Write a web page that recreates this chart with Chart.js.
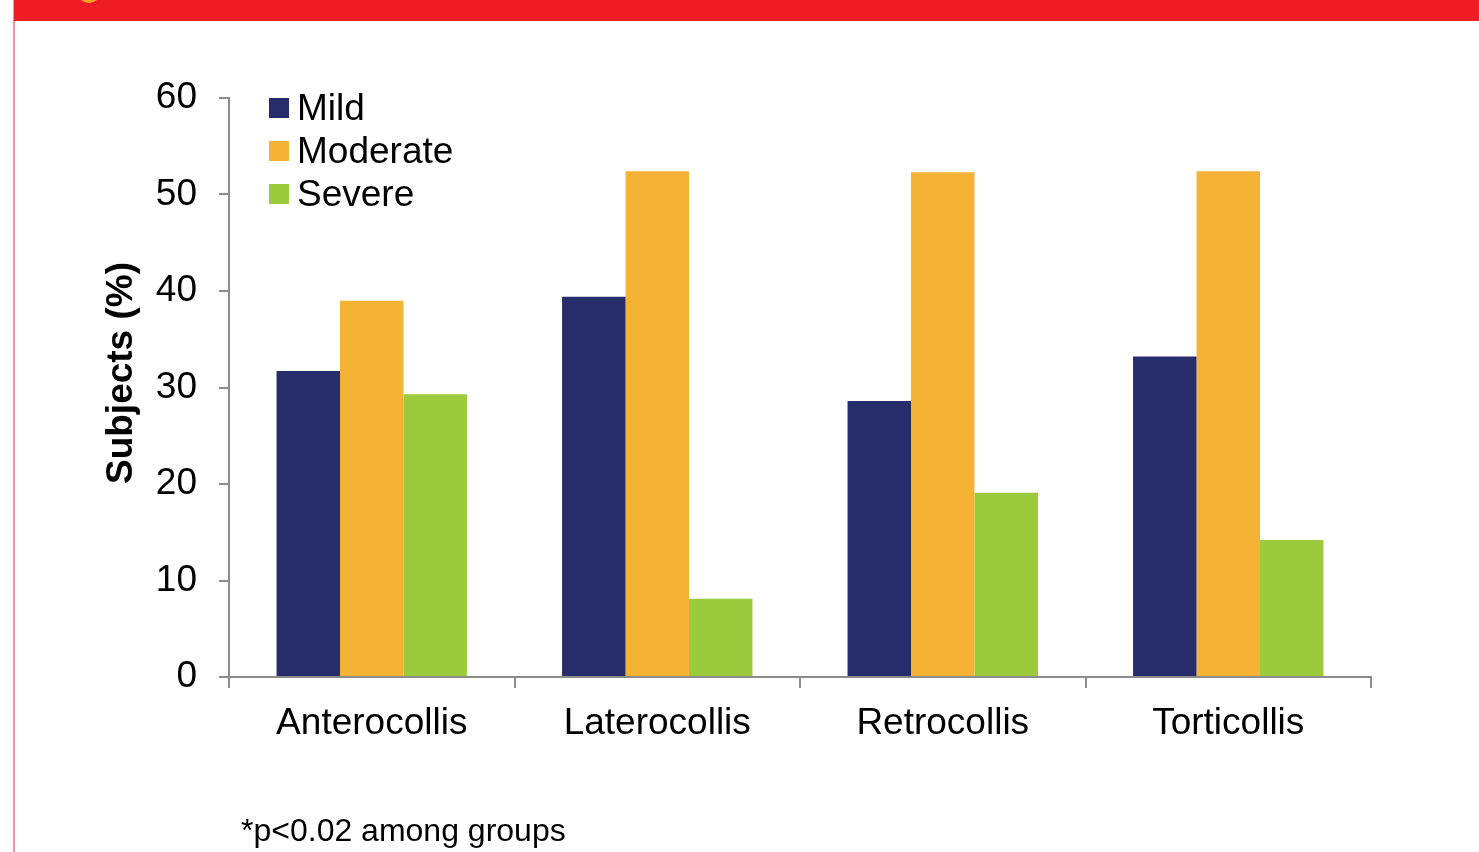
<!DOCTYPE html>
<html>
<head>
<meta charset="utf-8">
<script src="https://cdn.jsdelivr.net/npm/chart.js@4/dist/chart.umd.min.js"></script>
<style>
  html, body { margin: 0; padding: 0; background: #fff; }
  #wrap { position: relative; width: 1479px; height: 852px; }
  #note {
    position: absolute; left: 241px; top: 812px;
    font: 32px "Liberation Sans", Arial, sans-serif; color: #000;
  }
</style>
</head>
<body>
<div id="wrap">
  <canvas id="myChart" width="1479" height="852"></canvas>
  <div id="note">*p&lt;0.02 among groups</div>
</div>
<script>
var categories = ['Anterocollis', 'Laterocollis', 'Retrocollis', 'Torticollis'];
var mildValues = [31.7, 39.4, 28.6, 33.2];
var moderateValues = [39.0, 52.4, 52.3, 52.4];
var severeValues = [29.3, 8.1, 19.1, 14.2];
var yTicks = [0, 10, 20, 30, 40, 50, 60];
var yTitle = 'Subjects (%)';

var FONT = '"Liberation Sans", Arial, sans-serif';

// red header strip and the left page rule
var pageFrame = {
  id: 'pageFrame',
  beforeDraw: function(chart) {
    var c = chart.ctx;
    c.save();
    c.fillStyle = '#ffffff';
    c.fillRect(0, 0, chart.width, chart.height);
    c.fillStyle = '#f4959a';
    c.fillRect(13, 0, 2, chart.height);
    c.fillStyle = '#ee1c25';
    c.fillRect(14, 0, chart.width - 14, 21);
    c.fillStyle = '#f6a623';
    c.beginPath();
    c.arc(89, -9, 12, 0, Math.PI * 2);
    c.fill();
    c.restore();
  }
};

// legend inside the plot (top-left) and the rotated y title
var innerLegend = {
  id: 'innerLegend',
  afterDraw: function(chart) {
    var c = chart.ctx;
    c.save();
    c.font = '37px ' + FONT;
    c.textBaseline = 'middle';
    chart.data.datasets.forEach(function(ds, i) {
      var y = 108 + i * 43;
      c.fillStyle = ds.backgroundColor;
      c.fillRect(269, y - 10, 20, 20);
      c.fillStyle = '#000';
      c.fillText(ds.label, 297, y + 2);
    });
    c.translate(120, 373);
    c.rotate(-Math.PI / 2);
    c.font = 'bold 37px ' + FONT;
    c.textAlign = 'center';
    c.fillText(yTitle, 0, 2);
    c.restore();
  }
};

var ctx = document.getElementById('myChart').getContext('2d');
var myChart = new Chart(ctx, {
  type: 'bar',
  data: {
    labels: categories,
    datasets: [
      { label: 'Mild', data: mildValues, backgroundColor: '#262d6a' },
      { label: 'Moderate', data: moderateValues, backgroundColor: '#f5b335' },
      { label: 'Severe', data: severeValues, backgroundColor: '#9bcb3c' }
    ]
  },
  options: {
    responsive: false,
    animation: false,
    layout: { padding: { left: 0, top: 98, right: 108, bottom: 0 } },
    datasets: {
      bar: { categoryPercentage: 0.667, barPercentage: 1.0, borderWidth: 0 }
    },
    plugins: {
      legend: { display: false },
      tooltip: { enabled: false }
    },
    scales: {
      x: {
        afterFit: function(scale) { scale.height = 175; },
        border: { color: '#8c8c8c', width: 2 },
        grid: { offset: true, drawOnChartArea: false, drawTicks: true, tickLength: 11, color: '#8c8c8c', lineWidth: 2 },
        ticks: { color: '#000', font: { family: FONT, size: 37 }, padding: 14 }
      },
      y: {
        min: 0,
        max: 60,
        afterFit: function(scale) { scale.width = 229; },
        afterBuildTicks: function(scale) {
          scale.ticks = yTicks.map(function(v) { return { value: v }; });
        },
        border: { color: '#8c8c8c', width: 2 },
        grid: { drawOnChartArea: false, drawTicks: true, tickLength: 10, color: '#8c8c8c', lineWidth: 2 },
        ticks: { color: '#000', font: { family: FONT, size: 37 }, padding: 22 }
      }
    }
  },
  plugins: [pageFrame, innerLegend]
});
</script>
</body>
</html>
